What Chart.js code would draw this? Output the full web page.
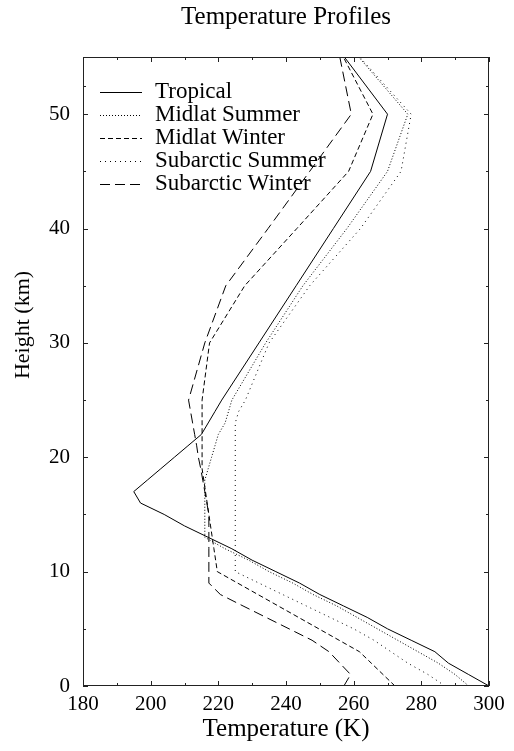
<!DOCTYPE html>
<html>
<head>
<meta charset="utf-8">
<script src="https://cdn.jsdelivr.net/npm/chart.js@4.4.1/dist/chart.umd.min.js"></script>
<style>
  html, body { margin: 0; padding: 0; background: #fff; }
  .chart-outer { width: 514px; height: 751px; }
</style>
</head>
<body>
<div class="chart-outer">
  <canvas id="chart" width="514" height="751"></canvas>
</div>
<script>
// heights (km) of the profile levels
const heights = [0, 1, 2, 3, 4, 5, 6, 7, 8, 9, 10, 11, 12, 13, 14, 15, 16, 17, 18, 19, 20,
                 21, 22, 23, 24, 25, 30, 35, 40, 45, 50, 70];

// temperatures (K) at each level
const tropical = [300.0, 294.0, 288.0, 284.0, 277.0, 270.0, 264.0, 257.0, 250.0, 244.0, 237.0,
                  230.0, 224.0, 217.0, 210.0, 204.0, 197.0, 195.0, 199.0, 203.0, 207.0,
                  211.0, 215.0, 217.0, 219.0, 221.0, 232.0, 243.0, 254.0, 265.0, 270.0, 219.0];
const midlatSummer = [294.0, 290.0, 285.0, 279.0, 273.0, 267.0, 261.0, 255.0, 248.0, 242.0, 235.0,
                      229.0, 222.0, 216.0, 216.0, 216.0, 216.0, 216.0, 216.0, 217.0, 218.0,
                      219.0, 220.0, 222.0, 223.0, 224.0, 234.0, 245.0, 258.0, 270.0, 276.0, 218.0];
const midlatWinter = [272.2, 268.7, 265.2, 261.7, 255.7, 249.7, 243.7, 237.7, 231.7, 225.7, 219.7,
                      219.2, 218.7, 218.2, 217.7, 217.2, 216.7, 216.2, 215.7, 215.2, 215.2,
                      215.2, 215.2, 215.2, 215.2, 215.2, 217.4, 227.8, 243.2, 258.5, 265.7, 230.7];
const subarcticSummer = [287.0, 282.0, 276.0, 271.0, 266.0, 260.0, 253.0, 246.0, 239.0, 232.0, 225.0,
                         225.0, 225.0, 225.0, 225.0, 225.0, 225.0, 225.0, 225.0, 225.0, 225.0,
                         225.0, 225.0, 225.0, 226.0, 228.0, 235.0, 247.0, 262.0, 274.0, 277.0, 216.0];
const subarcticWinter = [257.1, 259.1, 255.9, 252.7, 247.7, 240.9, 234.1, 227.3, 220.6, 217.2, 217.2,
                         217.2, 217.2, 217.2, 217.2, 217.2, 216.6, 216.0, 215.4, 214.8, 214.1,
                         213.6, 213.0, 212.4, 211.8, 211.2, 216.0, 222.2, 234.7, 247.0, 259.3, 245.7];

const seriesNames = ['Tropical', 'Midlat Summer', 'Midlat Winter', 'Subarctic Summer', 'Subarctic Winter'];
const xTicks = [180, 200, 220, 240, 260, 280, 300];
const yTicks = [0, 10, 20, 30, 40, 50];

const FONT = '"Liberation Serif", "Times New Roman", serif';
const dashes = [[], [1, 2], [5, 3], [1, 4], [10, 5]];

const toPoints = temps => temps.map((t, i) => ({ x: t, y: heights[i] }));
const allSeries = [tropical, midlatSummer, midlatWinter, subarcticSummer, subarcticWinter];

// frame with gnuplot-style inward ticks on all four sides
const framePlugin = {
    id: 'frame',
    afterDraw(chart) {
        const { ctx, chartArea: a, scales } = chart;
        const sx = scales.x, sy = scales.y;
        ctx.save();
        ctx.strokeStyle = '#222';
        ctx.lineWidth = 1;
        ctx.strokeRect(a.left + 0.5, a.top + 0.5, a.right - a.left - 1, a.bottom - a.top - 1);
        ctx.beginPath();
        for (let i = 0; i < xTicks.length; i++) {
            const vals = [xTicks[i]];
            if (i < xTicks.length - 1) vals.push((xTicks[i] + xTicks[i + 1]) / 2);
            vals.forEach((v, k) => {
                const len = k === 0 ? 5 : 3;
                const px = Math.round(sx.getPixelForValue(v)) + 0.5;
                ctx.moveTo(px, a.bottom); ctx.lineTo(px, a.bottom - len);
                ctx.moveTo(px, a.top); ctx.lineTo(px, a.top + len);
            });
        }
        const yVals = yTicks.concat([55]);
        for (let i = 0; i < yVals.length; i++) {
            const vals = [yVals[i]];
            if (i < yVals.length - 1) vals.push((yVals[i] + yVals[i + 1]) / 2);
            vals.forEach((v, k) => {
                const len = (k === 0 && v % 10 === 0) ? 5 : 3;
                const py = Math.round(sy.getPixelForValue(v)) + 0.5;
                ctx.moveTo(a.left, py); ctx.lineTo(a.left + len, py);
                ctx.moveTo(a.right, py); ctx.lineTo(a.right - len, py);
            });
        }
        ctx.stroke();

        // y axis title, placed like the original (above centre)
        ctx.fillStyle = '#000';
        ctx.font = '22px ' + FONT;
        ctx.textAlign = 'center';
        ctx.textBaseline = 'middle';
        ctx.translate(23, 325);
        ctx.rotate(-Math.PI / 2);
        ctx.fillText('Height (km)', 0, 0);
        ctx.restore();
    }
};

// legend inside the plot, top left
const legendPlugin = {
    id: 'insideLegend',
    afterDatasetsDraw(chart) {
        const { ctx } = chart;
        ctx.save();
        ctx.font = '23px ' + FONT;
        ctx.textBaseline = 'middle';
        ctx.fillStyle = '#000';
        chart.data.datasets.forEach((ds, i) => {
            const y = 92 + i * 23;
            ctx.strokeStyle = '#000';
            ctx.lineWidth = 1;
            ctx.setLineDash(ds.borderDash || []);
            ctx.beginPath();
            ctx.moveTo(100, y + 0.5);
            ctx.lineTo(142, y + 0.5);
            ctx.stroke();
            ctx.setLineDash([]);
            ctx.fillText(ds.label, 155, y);
        });
        ctx.restore();
    }
};

new Chart(document.getElementById('chart'), {
    type: 'scatter',
    data: {
        datasets: allSeries.map((s, i) => ({
            label: seriesNames[i],
            data: toPoints(s),
            showLine: true,
            borderColor: '#000',
            borderWidth: 1,
            borderDash: dashes[i],
            pointRadius: 0,
            tension: 0,
        }))
    },
    options: {
        responsive: false,
        animation: false,
        layout: { padding: { left: 0, right: 25, top: 0, bottom: 0 } },
        plugins: {
            legend: { display: false },
            tooltip: { enabled: false },
            title: {
                display: true,
                text: 'Temperature Profiles',
                fullSize: false,
                color: '#000',
                font: { family: FONT, size: 25, weight: 'normal' },
                padding: { top: 2, bottom: 25 }
            }
        },
        scales: {
            x: {
                type: 'linear',
                min: 180,
                max: 300,
                afterFit(scale) { scale.height = 65; },
                afterBuildTicks(scale) { scale.ticks = xTicks.map(v => ({ value: v })); },
                grid: { display: false, drawTicks: false },
                border: { display: false },
                ticks: {
                    color: '#000',
                    padding: 6,
                    maxRotation: 0,
                    font: { family: FONT, size: 21 }
                },
                title: {
                    display: true,
                    text: 'Temperature (K)',
                    color: '#000',
                    font: { family: FONT, size: 25 },
                    padding: { top: 0, bottom: 7 }
                }
            },
            y: {
                type: 'linear',
                min: 0,
                max: 55,
                afterFit(scale) { scale.width = 83; },
                afterBuildTicks(scale) { scale.ticks = yTicks.map(v => ({ value: v })); },
                grid: { display: false, drawTicks: false },
                border: { display: false },
                ticks: {
                    color: '#000',
                    padding: 13,
                    font: { family: FONT, size: 21 }
                }
            }
        }
    },
    plugins: [framePlugin, legendPlugin]
});
</script>
</body>
</html>
